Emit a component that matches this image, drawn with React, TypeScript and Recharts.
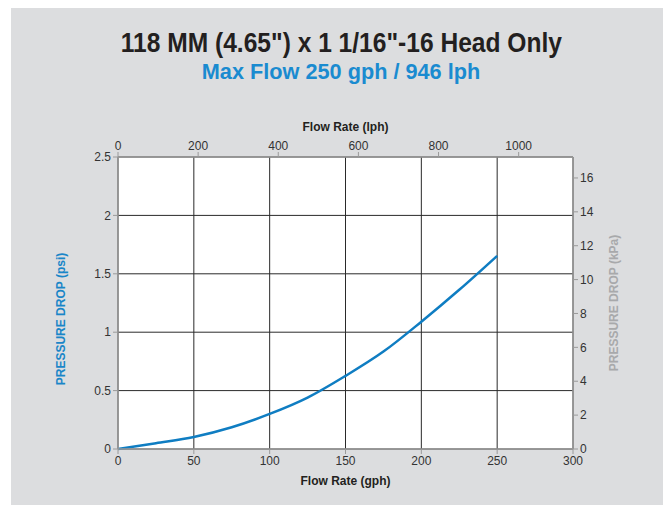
import React from 'react';
import { LineChart, Line, XAxis, YAxis, CartesianGrid, Label } from 'recharts';

// flow rate (gph) and pressure drop (psi)
const flowGph = [0, 25, 50, 75, 100, 125, 150, 175, 200, 225, 250];
const dropPsi = [0, 0.05, 0.103, 0.186, 0.3, 0.44, 0.626, 0.834, 1.09, 1.363, 1.654];

const gphTicks = [0, 50, 100, 150, 200, 250, 300];
const lphTicks = [0, 200, 400, 600, 800, 1000];
const psiTicks = [0, 0.5, 1, 1.5, 2, 2.5];
const kpaTicks = [0, 2, 4, 6, 8, 10, 12, 14, 16];

const GPH_TO_LPH = 3.78541;
const PSI_TO_KPA = 6.89476;

const data = flowGph.map((g, i) => ({ gph: g, lph: g * GPH_TO_LPH, psi: dropPsi[i] }));

const BLUE = '#0f7dc2';
const AXIS_GRAY = '#9a9a9a';
const FONT = 'Liberation Sans, Arial, sans-serif';
const tickStyle = { fontSize: 12, fill: '#333', fontFamily: FONT };
const titleStyle = { fontSize: 12, fontWeight: 'bold', fill: '#231f20', fontFamily: FONT };

// rotated side title, placed from the axis viewBox
const sideTitle = (text: string, color: string, dx: number, dy: number) => (props: any) => {
  const vb = props.viewBox || { x: 0, y: 0, width: 0, height: 0 };
  const x = vb.x + dx;
  const y = vb.y + vb.height / 2 + dy;
  return (
    <text
      x={x}
      y={y}
      transform={`rotate(-90, ${x}, ${y})`}
      textAnchor="middle"
      dominantBaseline="central"
      style={{ ...titleStyle, fill: color }}
    >
      {text}
    </text>
  );
};

const App: React.FC = () => {
  return (
    <div style={{ position: 'relative', marginLeft: 3, width: 660, height: 497, background: '#dcdddf' }}>
      <div
        style={{
          position: 'absolute',
          top: 19,
          left: 0,
          width: 660,
          textAlign: 'center',
          fontFamily: FONT,
          fontWeight: 'bold',
          fontSize: 27,
          color: '#231f20',
          lineHeight: '32px',
          transform: 'scaleX(0.91)',
          transformOrigin: '334px 0',
        }}
      >
        118 MM (4.65") x 1 1/16"-16 Head Only
      </div>
      <div
        style={{
          position: 'absolute',
          top: 51,
          left: 0,
          width: 660,
          textAlign: 'center',
          fontFamily: FONT,
          fontWeight: 'bold',
          fontSize: 21.7,
          color: '#1a8bd0',
          lineHeight: '26px',
        }}
      >
        Max Flow 250 gph / 946 lph
      </div>
      <LineChart
        width={660}
        height={497}
        data={data}
        margin={{ top: 119, right: 38, bottom: 26, left: 47 }}
        style={{ position: 'absolute', top: 0, left: 0 }}
      >
        <CartesianGrid xAxisId="gph" yAxisId="psi" stroke="#2a2a2a" strokeWidth={1} fill="#ffffff" />
        <XAxis
          xAxisId="gph"
          dataKey="gph"
          type="number"
          domain={[0, 300]}
          ticks={gphTicks}
          height={30}
          stroke={AXIS_GRAY}
          tickSize={5}
          tick={tickStyle}
          tickLine={{ stroke: AXIS_GRAY }}
          axisLine={{ stroke: AXIS_GRAY, strokeWidth: 1.5 }}
        >
          <Label value="Flow Rate (gph)" position="insideBottom" offset={-6} style={titleStyle} />
        </XAxis>
        <XAxis
          xAxisId="lph"
          dataKey="lph"
          orientation="top"
          type="number"
          domain={[0, 300 * GPH_TO_LPH]}
          ticks={lphTicks}
          height={30}
          stroke={AXIS_GRAY}
          tickSize={5}
          tick={tickStyle}
          tickLine={{ stroke: AXIS_GRAY }}
          axisLine={{ stroke: AXIS_GRAY, strokeWidth: 1.5 }}
          allowDataOverflow
        >
          <Label value="Flow Rate (lph)" position="insideTop" offset={-5} style={titleStyle} />
        </XAxis>
        <YAxis
          yAxisId="psi"
          type="number"
          domain={[0, 2.5]}
          ticks={psiTicks}
          width={60}
          stroke={AXIS_GRAY}
          tickSize={5}
          tick={tickStyle}
          tickLine={{ stroke: AXIS_GRAY }}
          axisLine={{ stroke: AXIS_GRAY, strokeWidth: 1.5 }}
        >
          <Label content={sideTitle('PRESSURE DROP (psi)', '#1a86c8', 3, 16)} />
        </YAxis>
        <YAxis
          yAxisId="kpa"
          orientation="right"
          type="number"
          domain={[0, 2.5 * PSI_TO_KPA]}
          ticks={kpaTicks}
          width={60}
          stroke={AXIS_GRAY}
          tickSize={5}
          tick={tickStyle}
          tickLine={{ stroke: AXIS_GRAY }}
          axisLine={{ stroke: AXIS_GRAY, strokeWidth: 1.5 }}
          allowDataOverflow
        >
          <Label content={sideTitle('PRESSURE DROP (kPa)', '#a8a9ab', 41, 0)} />
        </YAxis>
        {/* invisible series so the lph axis takes part in the layout */}
        <Line
          xAxisId="lph"
          yAxisId="psi"
          dataKey="psi"
          stroke="none"
          dot={false}
          activeDot={false}
          legendType="none"
          isAnimationActive={false}
        />
        <Line
          xAxisId="gph"
          yAxisId="psi"
          type="monotone"
          dataKey="psi"
          stroke={BLUE}
          strokeWidth={2.5}
          dot={false}
          isAnimationActive={false}
        />
      </LineChart>
    </div>
  );
};

export default App;
